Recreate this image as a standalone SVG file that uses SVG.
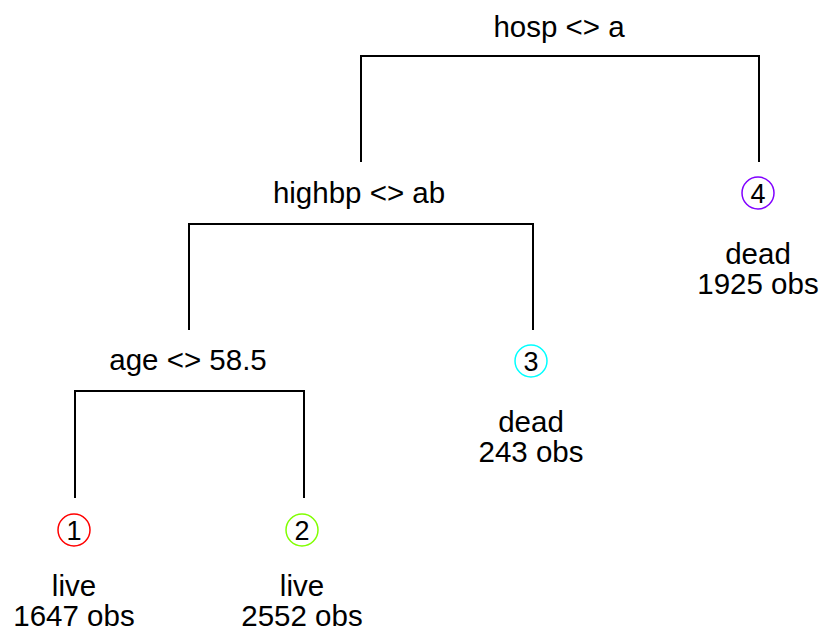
<svg xmlns="http://www.w3.org/2000/svg" width="824" height="632" viewBox="0 0 824 632">
  <style>
    text { font-family: "Liberation Sans", Arial, sans-serif; font-size: 29.5px; fill: #000; text-anchor: middle; }
    .edge { fill: none; stroke: #000; stroke-width: 2; }
    .leaf circle { fill: #fff; stroke-width: 1.5; }
    .num { font-size: 27px; }
  </style>
  <rect width="824" height="632" fill="#fff"/>

  <!-- branches of the tree -->
  <g id="connectors">
    <path class="edge" d="M361,162 V56 H759 V162"/>
    <path class="edge" d="M189,330 V224 H533 V330"/>
    <path class="edge" d="M75,498 V391 H304 V498"/>
  </g>

  <!-- split nodes -->
  <g id="split-hosp"><text x="559" y="37">hosp &lt;&gt; a</text></g>
  <g id="split-highbp"><text x="359" y="203">highbp &lt;&gt; ab</text></g>
  <g id="split-age"><text x="188" y="370">age &lt;&gt; 58.5</text></g>

  <!-- terminal nodes -->
  <g id="leaf-1" class="leaf">
    <circle cx="74" cy="530" r="16" stroke="#ff0000"/>
    <text class="num" x="74" y="539.5">1</text>
    <text x="74" y="596">live</text>
    <text x="74" y="626">1647 obs</text>
  </g>
  <g id="leaf-2" class="leaf">
    <circle cx="302" cy="530" r="16" stroke="#80ff00"/>
    <text class="num" x="302" y="539.5">2</text>
    <text x="302" y="596">live</text>
    <text x="302" y="626">2552 obs</text>
  </g>
  <g id="leaf-3" class="leaf">
    <circle cx="531" cy="361" r="16" stroke="#00ffff"/>
    <text class="num" x="531" y="370.5">3</text>
    <text x="531" y="432">dead</text>
    <text x="531" y="462">243 obs</text>
  </g>
  <g id="leaf-4" class="leaf">
    <circle cx="758" cy="193" r="16" stroke="#8000ff"/>
    <text class="num" x="758" y="202.5">4</text>
    <text x="758" y="264">dead</text>
    <text x="758" y="294">1925 obs</text>
  </g>
</svg>
